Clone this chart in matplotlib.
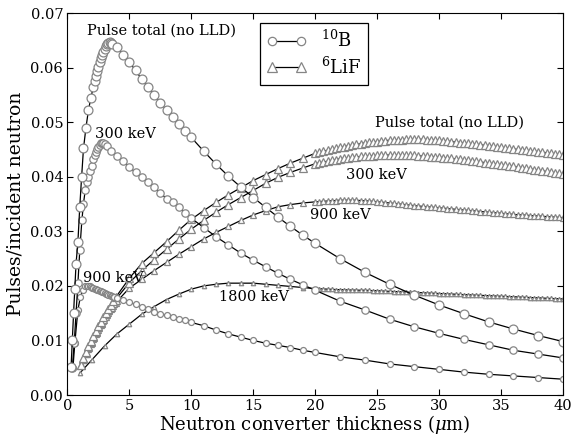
import matplotlib
matplotlib.use('Agg')
import matplotlib.pyplot as plt
from matplotlib.lines import Line2D
from matplotlib.ticker import FormatStrFormatter

plt.rcParams['font.family'] = ['DejaVu Serif']
plt.rcParams['mathtext.fontset'] = 'dejavuserif'

# ---- 10B curves (circles) ----
# shared x grid after the peak region
b_x_tail = [4.0, 4.5, 5.0, 5.5, 6.0, 6.5, 7.0, 7.5, 8.0, 8.5, 9.0, 9.5, 10.0,
            11, 12, 13, 14, 15, 16, 17, 18, 19, 20,
            22, 24, 26, 28, 30, 32, 34, 36, 38, 40]

b_tot_x = [0.3, 0.4, 0.5, 0.6, 0.7, 0.85, 1.0, 1.15, 1.3, 1.5, 1.7, 1.9,
           2.1, 2.2, 2.3, 2.4, 2.5, 2.6, 2.7, 2.8, 2.9, 3.0, 3.1, 3.2, 3.3,
           3.4, 3.5, 3.6]
b_tot_y = [0.0052, 0.0101, 0.0150, 0.0195, 0.0241, 0.0281, 0.0345, 0.0400,
           0.0452, 0.0490, 0.0522, 0.0545, 0.0565, 0.0575, 0.0585, 0.0594,
           0.0602, 0.0610, 0.0617, 0.0623, 0.0629, 0.0635, 0.0640, 0.0644,
           0.0646, 0.0647, 0.0646, 0.0644]
b_tot_tail = [0.0638, 0.0624, 0.0610, 0.0595, 0.0579, 0.0564, 0.0550, 0.0536,
              0.0522, 0.0509, 0.0496, 0.0484, 0.0472,
              0.0447, 0.0423, 0.0401, 0.0381, 0.0362, 0.0344, 0.0326, 0.0309,
              0.0293, 0.0278,
              0.0250, 0.0225, 0.0203, 0.0183, 0.0165, 0.0149, 0.0134, 0.0121,
              0.0109, 0.0098]

b_300_x = [0.4, 0.55, 0.7, 0.85, 1.0, 1.17, 1.3, 1.44, 1.57, 1.7, 1.83, 1.95,
           2.1, 2.2, 2.3, 2.4, 2.5, 2.6, 2.7, 2.8, 2.9, 3.0, 3.2, 3.5]
b_300_y = [0.0050, 0.0095, 0.0150, 0.0205, 0.0265, 0.0320, 0.0351, 0.0375,
           0.0390, 0.0400, 0.0411, 0.0420, 0.0432, 0.0440, 0.0446, 0.0451,
           0.0455, 0.0458, 0.0461, 0.0462, 0.0462, 0.0460, 0.0456, 0.0447]
b_300_tail = [0.0438, 0.0429, 0.0418, 0.0408, 0.0400, 0.0390, 0.0381, 0.0370,
              0.0360, 0.0353, 0.0344, 0.0334, 0.0324,
              0.0307, 0.0290, 0.0275, 0.0260, 0.0247, 0.0235, 0.0223, 0.0212,
              0.0202, 0.0192,
              0.0172, 0.0156, 0.0139, 0.0125, 0.0113, 0.0102, 0.0092, 0.0082,
              0.0075, 0.0068]

b_900_x = [0.45, 0.6, 0.85, 1.05, 1.25, 1.45, 1.6,
           1.7, 1.8, 1.9, 2.0, 2.1, 2.2, 2.3, 2.4, 2.5, 2.6, 2.7, 2.8, 2.9,
           3.0, 3.1, 3.2, 3.3, 3.4, 3.5, 3.6, 3.7, 3.8]
b_900_y = [0.0050, 0.0095, 0.0156, 0.0180, 0.0193, 0.0199, 0.0200,
           0.0200, 0.0199, 0.0198, 0.0197, 0.0196, 0.0195, 0.0194, 0.0193,
           0.0192, 0.0191, 0.0190, 0.0189, 0.0188, 0.0187, 0.0186, 0.0185,
           0.0184, 0.0183, 0.0182, 0.0181, 0.0180, 0.0179]
b_900_tail = [0.0178, 0.0174, 0.0170, 0.0166, 0.0161, 0.0157, 0.0153, 0.0149,
              0.0146, 0.0143, 0.0140, 0.0137, 0.0133,
              0.0127, 0.0119, 0.0112, 0.0106, 0.0100, 0.0095, 0.0091, 0.0087,
              0.0082, 0.0078,
              0.0070, 0.0064, 0.0057, 0.0052, 0.0047, 0.0042, 0.0038, 0.0035,
              0.0032, 0.0029]

# ---- 6LiF curves (triangles) ----
lif_x_head = [1.1, 1.3, 1.5, 1.7, 1.9, 2.1, 2.3, 2.5, 2.7, 2.9, 3.1, 3.3,
              3.5, 3.7, 3.9, 5, 6, 7, 8, 9, 10, 11, 12, 13, 14, 15, 16, 17,
              18, 19]
lif_1800_x_head = [1, 2, 3, 4, 5, 6, 7, 8, 9, 10, 11, 12, 13, 14, 15, 16, 17,
                   18, 19]
lif_x_tail = [20.0, 20.33, 20.67, 21.0, 21.33, 21.67, 22.0, 22.33, 22.67,
              23.0, 23.33, 23.67, 24.0, 24.33, 24.67, 25.0, 25.33, 25.67,
              26.0, 26.33, 26.67, 27.0, 27.33, 27.67, 28.0, 28.33, 28.67,
              29.0, 29.33, 29.67, 30.0, 30.33, 30.67, 31.0, 31.33, 31.67,
              32.0, 32.33, 32.67, 33.0, 33.33, 33.67, 34.0, 34.33, 34.67,
              35.0, 35.33, 35.67, 36.0, 36.33, 36.67, 37.0, 37.33, 37.67,
              38.0, 38.33, 38.67, 39.0, 39.33, 39.67, 40.0]

lif_tot_head = [0.0055, 0.0067, 0.0078, 0.0089, 0.0099, 0.0108, 0.0117,
                0.0126, 0.0134, 0.0143, 0.0151, 0.0158, 0.0165, 0.0172,
                0.0179, 0.0214, 0.0241, 0.0261, 0.0281, 0.0302, 0.0322,
                0.0338, 0.0353, 0.0367, 0.0380, 0.0393, 0.0404, 0.0415,
                0.0425, 0.0434]
lif_tot_tail = [0.04430, 0.04450, 0.04468, 0.04486, 0.04503, 0.04520, 0.04540,
                0.04553, 0.04567, 0.04580, 0.04593, 0.04607, 0.04620, 0.04629,
                0.04638, 0.04646, 0.04654, 0.04662, 0.04670, 0.04674, 0.04678,
                0.04682, 0.04686, 0.04689, 0.04690, 0.04689, 0.04686, 0.04683,
                0.04679, 0.04675, 0.04670, 0.04662, 0.04654, 0.04645, 0.04637,
                0.04628, 0.04620, 0.04612, 0.04603, 0.04595, 0.04587, 0.04578,
                0.04570, 0.04560, 0.04550, 0.04540, 0.04530, 0.04520, 0.04510,
                0.04502, 0.04493, 0.04485, 0.04477, 0.04468, 0.04460, 0.04450,
                0.04440, 0.04430, 0.04420, 0.04410, 0.04400]

lif_300_head = [0.0055, 0.0066, 0.0077, 0.0088, 0.0098, 0.0107, 0.0116,
                0.0124, 0.0132, 0.0140, 0.0148, 0.0155, 0.0162, 0.0169,
                0.0175, 0.0206, 0.0228, 0.0248, 0.0267, 0.0286, 0.0304,
                0.0320, 0.0335, 0.0349, 0.0362, 0.0375, 0.0388, 0.0399,
                0.0408, 0.0416]
lif_300_tail = [0.04240, 0.04255, 0.04270, 0.04285, 0.04300, 0.04315, 0.04330,
                0.04339, 0.04347, 0.04355, 0.04363, 0.04372, 0.04380, 0.04384,
                0.04387, 0.04390, 0.04393, 0.04397, 0.04400, 0.04399, 0.04397,
                0.04396, 0.04394, 0.04392, 0.04390, 0.04385, 0.04380, 0.04375,
                0.04370, 0.04365, 0.04360, 0.04352, 0.04343, 0.04335, 0.04327,
                0.04318, 0.04310, 0.04300, 0.04290, 0.04280, 0.04270, 0.04260,
                0.04250, 0.04240, 0.04230, 0.04220, 0.04210, 0.04200, 0.04190,
                0.04178, 0.04167, 0.04155, 0.04143, 0.04132, 0.04120, 0.04108,
                0.04097, 0.04085, 0.04073, 0.04062, 0.04050]

lif_900_head = [0.0055, 0.0065, 0.0075, 0.0085, 0.0094, 0.0103, 0.0112,
                0.0120, 0.0128, 0.0136, 0.0143, 0.0150, 0.0157, 0.0163,
                0.0169, 0.0196, 0.0212, 0.0228, 0.0243, 0.0258, 0.0272,
                0.0286, 0.0298, 0.0309, 0.0320, 0.0330, 0.0338, 0.0345,
                0.0349, 0.0352]
lif_900_tail = [0.03540, 0.03545, 0.03550, 0.03555, 0.03560, 0.03565, 0.03570,
                0.03570, 0.03570, 0.03570, 0.03568, 0.03565, 0.03560, 0.03555,
                0.03548, 0.03540, 0.03533, 0.03527, 0.03520, 0.03512, 0.03503,
                0.03495, 0.03487, 0.03478, 0.03470, 0.03463, 0.03457, 0.03450,
                0.03443, 0.03437, 0.03430, 0.03423, 0.03417, 0.03410, 0.03403,
                0.03397, 0.03390, 0.03383, 0.03377, 0.03370, 0.03363, 0.03357,
                0.03350, 0.03343, 0.03337, 0.03330, 0.03323, 0.03317, 0.03310,
                0.03305, 0.03300, 0.03295, 0.03290, 0.03285, 0.03280, 0.03275,
                0.03270, 0.03265, 0.03260, 0.03255, 0.03250]

lif_1800_head = [0.0040, 0.0065, 0.0090, 0.0112, 0.0130, 0.0148, 0.0162,
                 0.0175, 0.0185, 0.0194, 0.0200, 0.0203, 0.0205, 0.0205,
                 0.0205, 0.0203, 0.0201, 0.0199, 0.0197]
lif_1800_tail = [0.01950, 0.01947, 0.01943, 0.01940, 0.01937, 0.01933, 0.01930,
                 0.01928, 0.01925, 0.01923, 0.01922, 0.01920, 0.01920, 0.01917,
                 0.01913, 0.01910, 0.01907, 0.01903, 0.01900, 0.01897, 0.01893,
                 0.01890, 0.01887, 0.01883, 0.01880, 0.01877, 0.01873, 0.01870,
                 0.01867, 0.01863, 0.01860, 0.01857, 0.01853, 0.01850, 0.01847,
                 0.01843, 0.01840, 0.01837, 0.01833, 0.01830, 0.01827, 0.01823,
                 0.01820, 0.01817, 0.01813, 0.01810, 0.01807, 0.01803, 0.01800,
                 0.01797, 0.01793, 0.01790, 0.01787, 0.01783, 0.01780, 0.01777,
                 0.01773, 0.01770, 0.01767, 0.01763, 0.01760]

x_ticks = [0, 5, 10, 15, 20, 25, 30, 35, 40]
y_ticks = [0.00, 0.01, 0.02, 0.03, 0.04, 0.05, 0.06, 0.07]

EDGE = '#858585'

fig = plt.figure(figsize=(5.71, 4.36), dpi=100)
ax = fig.add_axes([0.118, 0.094, 0.868, 0.876])


def curve(x, y, marker, ms):
    ax.plot(x, y, '-', color='k', lw=0.9, marker=marker, ms=ms,
            mfc='white', mec=EDGE, mew=0.9)


# LiF first so the boron markers sit on top where they cross
curve(lif_1800_x_head + lif_x_tail, lif_1800_head + lif_1800_tail, '^', 3.2)
curve(lif_x_head + lif_x_tail, lif_900_head + lif_900_tail, '^', 4.4)
curve(lif_x_head + lif_x_tail, lif_300_head + lif_300_tail, '^', 5.2)
curve(lif_x_head + lif_x_tail, lif_tot_head + lif_tot_tail, '^', 6.0)

curve(b_900_x + b_x_tail, b_900_y + b_900_tail, 'o', 4.3)
curve(b_300_x + b_x_tail, b_300_y + b_300_tail, 'o', 5.3)
curve(b_tot_x + b_x_tail, b_tot_y + b_tot_tail, 'o', 6.4)

ax.set_xlim(0, 40)
ax.set_ylim(0, 0.07)
ax.set_xticks(x_ticks)
ax.set_yticks(y_ticks)
ax.yaxis.set_major_formatter(FormatStrFormatter('%.2f'))
ax.tick_params(direction='in', top=True, right=True, length=4, width=0.8,
               labelsize=10.5, pad=3)

ax.set_xlabel(r'Neutron converter thickness ($\mu$m)', fontsize=13,
              labelpad=0)
ax.set_ylabel('Pulses/incident neutron', fontsize=13.5, labelpad=4)

fs = 10.5
ax.text(1.57, 0.0667, 'Pulse total (no LLD)', fontsize=fs, va='center')
ax.text(2.22, 0.0478, '300 keV', fontsize=fs, va='center')
ax.text(1.23, 0.0215, '900 keV', fontsize=fs, va='center')
ax.text(24.8, 0.0500, 'Pulse total (no LLD)', fontsize=fs, va='center')
ax.text(22.5, 0.0403, '300 keV', fontsize=fs, va='center')
ax.text(19.6, 0.0330, '900 keV', fontsize=fs, va='center')
ax.text(12.2, 0.0180, '1800 keV', fontsize=fs, va='center')

handles = [Line2D([], [], color='k', lw=0.9, marker='o', ms=6, mfc='white',
                  mec=EDGE, mew=0.9),
           Line2D([], [], color='k', lw=0.9, marker='^', ms=6.5, mfc='white',
                  mec=EDGE, mew=0.9)]
leg = ax.legend(handles, [r'$^{10}$B', r'$^{6}$LiF'], loc='upper left',
                bbox_to_anchor=(0.388, 0.975), borderaxespad=0, numpoints=2,
                fontsize=13, fancybox=False, framealpha=1, edgecolor='k',
                handlelength=2.2, labelspacing=0.3, borderpad=0.4)
leg.get_frame().set_linewidth(0.9)

fig.savefig('out.png', dpi=100)
